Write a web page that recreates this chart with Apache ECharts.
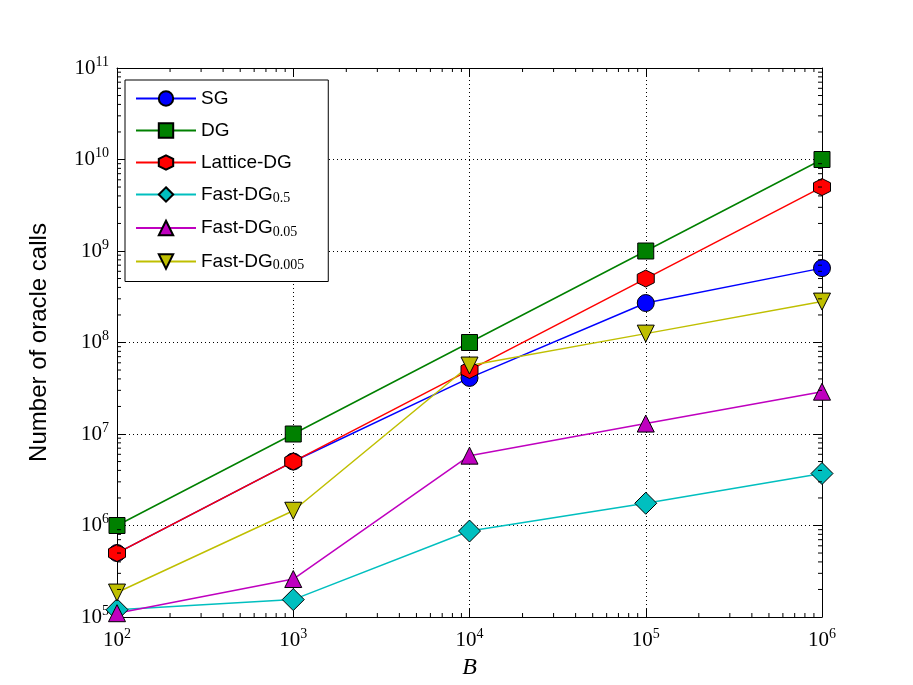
<!DOCTYPE html>
<html>
<head>
<meta charset="utf-8">
<script src="https://cdn.jsdelivr.net/npm/echarts@6/dist/echarts.min.js"></script>
<style>
  html, body { margin: 0; padding: 0; background: #fff; }
  #main { width: 913px; height: 685px; }
</style>
</head>
<body>
<div id="main"></div>
<script>
// data
var budgets = [1e2, 1e3, 1e4, 1e5, 1e6];
var sg = [5e5, 5e6, 4.1e7, 2.7e8, 6.5e8];
var dg = [1e6, 1e7, 1e8, 1e9, 1e10];
var latticeDg = [5e5, 5e6, 5e7, 5e8, 5e9];
var fastDg05 = [1.2e5, 1.55e5, 8.7e5, 1.75e6, 3.7e6];
var fastDg005 = [1.1e5, 2.6e5, 5.8e6, 1.3e7, 2.9e7];
var fastDg0005 = [1.85e5, 1.45e6, 5.6e7, 1.25e8, 2.8e8];
var seriesNames = ['SG', 'DG', 'Lattice-DG', 'Fast-DG0.5', 'Fast-DG0.05', 'Fast-DG0.005'];
var xRange = [1e2, 1e6];
var yRange = [1e5, 1e11];

var hexagon = 'path://M5,0 L9.33,2.5 L9.33,7.5 L5,10 L0.67,7.5 L0.67,2.5 Z';
var triDown = 'path://M0,0 L10,0 L5,8.66 Z';

function zip(ys) {
  return budgets.map(function (b, i) { return [b, ys[i]]; });
}

// minor tick positions for the log axes (2..9 in each decade)
function minorValues(lo, hi) {
  var out = [];
  for (var d = lo; d < hi; d *= 10) {
    for (var k = 2; k <= 9; k++) out.push(d * k);
  }
  return out;
}
var xMinor = minorValues(xRange[0], xRange[1]);
var yMinor = minorValues(yRange[0], yRange[1]);

var serif = 'Liberation Serif';
var sans = 'Liberation Sans';

function powLabel(v) {
  return '{b|10}{s|' + Math.round(Math.log10(v)) + '}';
}
var powRich = {
  b: { fontFamily: serif, fontSize: 21, color: '#000' },
  s: { fontFamily: serif, fontSize: 14, color: '#000', padding: [0, 0, 12, 0] }
};

function line(name, ys, color, symbol, size) {
  return {
    name: name,
    type: 'line',
    data: zip(ys),
    xAxisIndex: 0,
    yAxisIndex: 0,
    symbol: symbol,
    symbolSize: size,
    showAllSymbol: true,
    lineStyle: { color: color, width: 1.5 },
    itemStyle: { color: color, borderColor: '#000', borderWidth: 1 },
    clip: false,
    z: 3
  };
}

// short inside ticks at the 2..9 positions, on all four sides
function tickSeries(values, isX) {
  return {
    type: 'custom',
    silent: true,
    clip: false,
    xAxisIndex: 0,
    yAxisIndex: 0,
    z: 4,
    data: values.map(function (v) { return isX ? [v, yRange[0]] : [xRange[0], v]; }),
    renderItem: function (params, api) {
      var a, b, len = 4;
      var st = { stroke: '#000', lineWidth: 1 };
      if (isX) {
        a = api.coord([api.value(0), yRange[0]]);
        b = api.coord([api.value(0), yRange[1]]);
        return { type: 'group', children: [
          { type: 'line', shape: { x1: a[0], y1: a[1], x2: a[0], y2: a[1] - len }, style: st },
          { type: 'line', shape: { x1: b[0], y1: b[1], x2: b[0], y2: b[1] + len }, style: st }
        ]};
      }
      a = api.coord([xRange[0], api.value(1)]);
      b = api.coord([xRange[1], api.value(1)]);
      return { type: 'group', children: [
        { type: 'line', shape: { x1: a[0], y1: a[1], x2: a[0] + len, y2: a[1] }, style: st },
        { type: 'line', shape: { x1: b[0], y1: b[1], x2: b[0] - len, y2: b[1] }, style: st }
      ]};
    }
  };
}

var chart = echarts.init(document.getElementById('main'));

var option = {
  backgroundColor: '#fff',
  animation: false,
  grid: { left: 117, right: 91, top: 68, bottom: 68 },
  legend: {
    data: seriesNames,
    orient: 'vertical',
    left: 125,
    top: 80,
    padding: [9, 24, 9, 10],
    itemGap: 13,
    itemWidth: 60,
    itemHeight: 18,
    borderColor: '#000',
    borderWidth: 1,
    backgroundColor: '#fff',
    textStyle: {
      fontFamily: sans,
      fontSize: 19,
      color: '#000',
      rich: {
        n: { fontFamily: sans, fontSize: 19, color: '#000' },
        sub: { fontFamily: serif, fontSize: 14, color: '#000', padding: [8, 0, 0, 0] }
      }
    },
    formatter: function (name) {
      var m = name.match(/^(Fast-DG)(.+)$/);
      return m ? '{n|' + m[1] + '}{sub|' + m[2] + '}' : '{n|' + name + '}';
    }
  },
  xAxis: [{
    type: 'log',
    logBase: 10,
    min: xRange[0],
    max: xRange[1],
    name: 'B',
    nameLocation: 'middle',
    nameGap: 30,
    nameTextStyle: { fontFamily: serif, fontStyle: 'italic', fontSize: 24, color: '#000' },
    axisLine: { lineStyle: { color: '#000', width: 1 } },
    axisTick: { inside: true, length: 8, lineStyle: { color: '#000' } },
    axisLabel: { margin: 10, formatter: powLabel, rich: powRich },
    splitLine: { show: true, lineStyle: { color: '#000', type: [1, 3], width: 1 } }
  }, {
    type: 'log',
    logBase: 10,
    min: xRange[0],
    max: xRange[1],
    position: 'top',
    axisLine: { lineStyle: { color: '#000', width: 1 } },
    axisTick: { inside: true, length: 8, lineStyle: { color: '#000' } },
    axisLabel: { show: false },
    splitLine: { show: false }
  }],
  yAxis: [{
    type: 'log',
    logBase: 10,
    min: yRange[0],
    max: yRange[1],
    name: 'Number of oracle calls',
    nameLocation: 'middle',
    nameGap: 66,
    nameRotate: 90,
    nameTextStyle: { fontFamily: sans, fontSize: 24, color: '#000' },
    axisLine: { lineStyle: { color: '#000', width: 1 } },
    axisTick: { inside: true, length: 8, lineStyle: { color: '#000' } },
    axisLabel: { margin: 8, formatter: powLabel, rich: powRich },
    splitLine: { show: true, lineStyle: { color: '#000', type: [1, 3], width: 1 } }
  }, {
    type: 'log',
    logBase: 10,
    min: yRange[0],
    max: yRange[1],
    position: 'right',
    axisLine: { lineStyle: { color: '#000', width: 1 } },
    axisTick: { inside: true, length: 8, lineStyle: { color: '#000' } },
    axisLabel: { show: false },
    splitLine: { show: false }
  }],
  series: [
    line('SG', sg, '#0000ff', 'circle', 17),
    line('DG', dg, '#008000', 'rect', 16),
    line('Lattice-DG', latticeDg, '#ff0000', hexagon, 17),
    line('Fast-DG0.5', fastDg05, '#00bfbf', 'diamond', 22),
    line('Fast-DG0.05', fastDg005, '#bf00bf', 'triangle', 17),
    line('Fast-DG0.005', fastDg0005, '#bfbf00', triDown, 17),
    tickSeries(xMinor, true),
    tickSeries(yMinor, false)
  ]
};

chart.setOption(option);
</script>
</body>
</html>
